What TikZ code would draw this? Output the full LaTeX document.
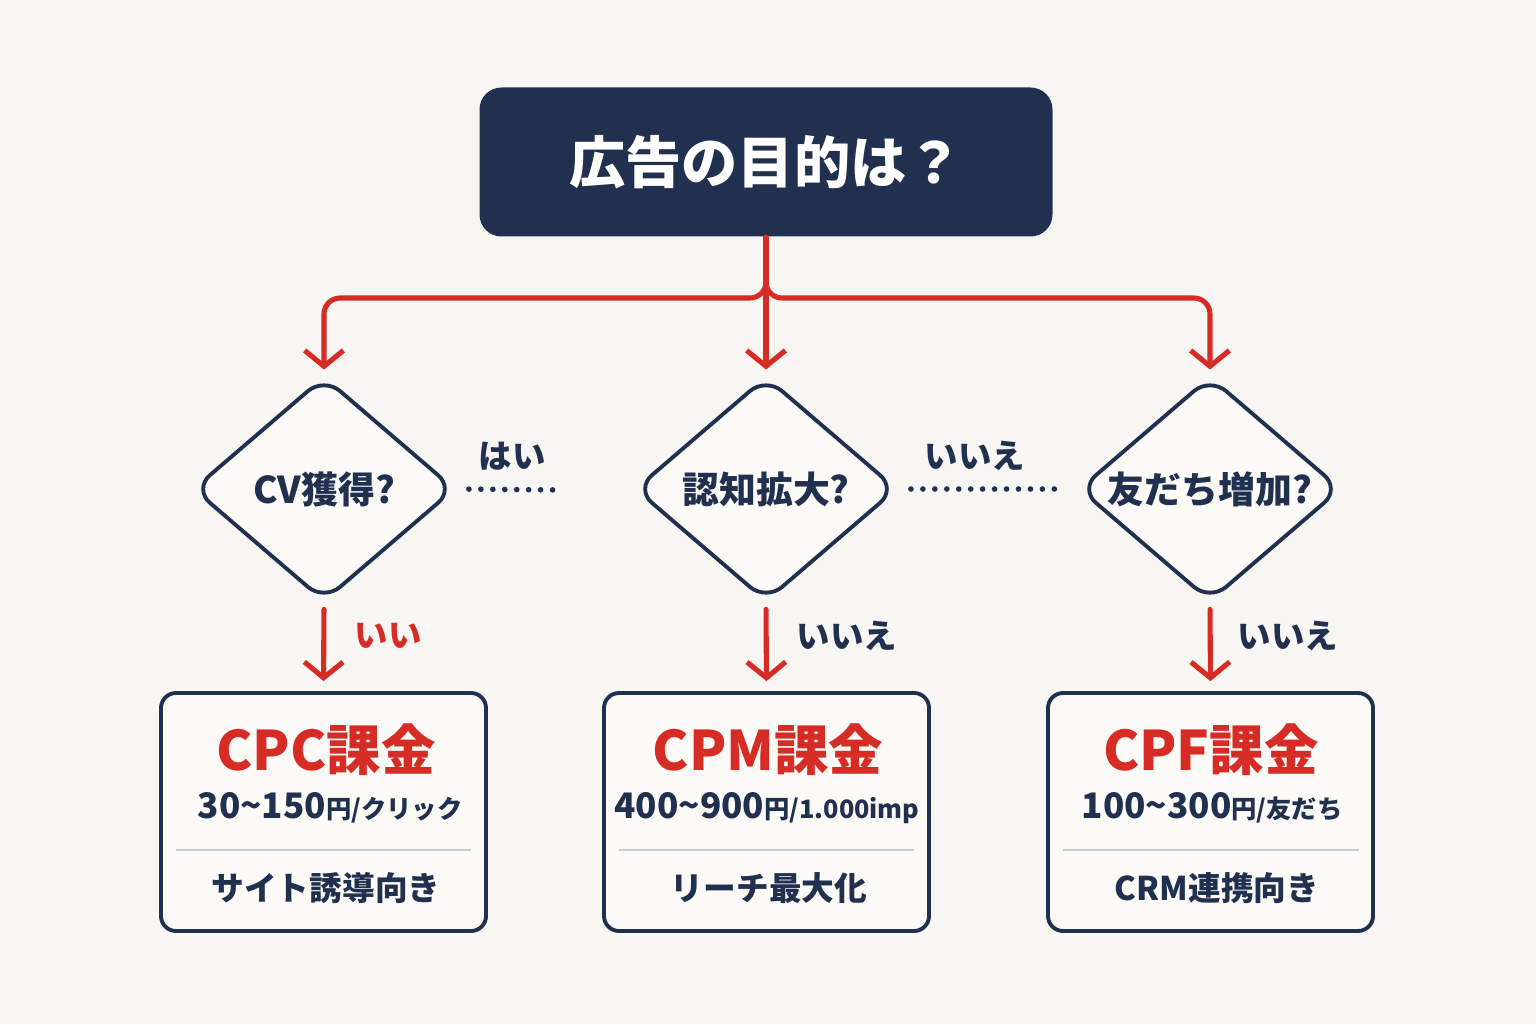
\documentclass[tikz,border=0pt]{standalone}
\usepackage{fontspec}
\setmainfont{Noto Sans CJK JP}
\usepackage{tikz}
\usetikzlibrary{arrows.meta,positioning,shapes.geometric}

\definecolor{navy}{HTML}{21304F}
\definecolor{adred}{HTML}{D72C26}
\definecolor{paper}{HTML}{F7F6F3}
\definecolor{card}{HTML}{FBFAF7}
\definecolor{rulegray}{HTML}{C8CDD6}
\newcommand{\perunit}[1]{{\fontsize{7.2}{9}\selectfont #1}}

\begin{document}
\begin{tikzpicture}[font=\bfseries,
  goalbox/.style={fill=navy,text=white,rounded corners=0.22cm,minimum width=5.73cm,minimum height=1.49cm,font=\fontsize{16}{19}\selectfont\bfseries},
  flow/.style={draw=adred,line width=1.45pt,line cap=round,-{Straight Barb[length=4.5pt,width=11pt]}},
  ask/.style={draw=navy,fill=card,line width=1.1pt,diamond,minimum width=2.62cm,minimum height=2.25cm,inner sep=0pt,rounded corners=6pt},
  asktext/.style={text=navy,font=\fontsize{10.5}{12}\selectfont\bfseries},
  answer/.style={text=navy,font=\fontsize{9.5}{11}\selectfont\bfseries},
  dots/.style={draw=navy,line width=1.6pt,line cap=round,dash pattern=on 0pt off 3.4pt},
  plan/.style={draw=navy,fill=card,line width=1.1pt,rounded corners=0.15cm,minimum width=3.25cm,minimum height=2.38cm},
  fee/.style={text=adred,font=\fontsize{15.5}{18}\selectfont\bfseries},
  price/.style={text=navy,font=\fontsize{10}{12}\selectfont\bfseries},
  usecase/.style={text=navy,font=\fontsize{9.3}{11}\selectfont\bfseries},
  divider/.style={draw=rulegray,line width=0.8pt}]
\fill[paper] (0,0) rectangle (15.36,10.24);
\useasboundingbox (0,0) rectangle (15.36,10.24);

% Question at the top.
\node[goalbox] (goal) at (7.66,8.62) {広告の目的は？};

% Three decisions.
\node[ask] (cv) at (3.24,5.35) {};
\node[asktext] (cvq) at (cv) {CV獲得?};
\node[ask] (aware) at (7.66,5.35) {};
\node[asktext] (awareq) at (aware) {認知拡大?};
\node[ask] (friend) at (12.10,5.35) {};
\node[asktext] (friendq) at (friend) {友だち増加?};

% Branches from the question.
\coordinate (fork) at (7.66,7.26);
\draw[flow,shorten >=0.05cm] (goal.south) -- (aware.north);
\draw[flow,rounded corners=0.16cm,shorten >=0.05cm] (goal.south) -- (fork) -| (cv.north);
\draw[flow,rounded corners=0.16cm,shorten >=0.05cm] (goal.south) -- (fork) -| (friend.north);

% Dotted links between decisions.
\coordinate (yesend) at (5.62,5.34);
\draw[dots,shorten <=0.12cm] (cv.east) -- (yesend);
\draw[dots,shorten <=0.12cm,shorten >=0.16cm] (aware.east) -- (friend.west);
\node[answer] (yes) at (5.12,5.68) {はい};
\node[answer] (nomid) at (9.75,5.68) {いいえ};

% Result cards.
\node[plan] (cpc) at (3.235,2.12) {};
\node[fee] (cpct) at (3.26,2.74) {CPC課金};
\node[price] (cpcp) at (3.30,2.16) {30\textasciitilde150\perunit{円/クリック}};
\draw[divider] (1.76,1.74) -- (4.71,1.74);
\node[usecase] (cpcu) at (3.26,1.36) {サイト誘導向き};

\node[plan] (cpm) at (7.665,2.12) {};
\node[fee] (cpmt) at (7.68,2.74) {CPM課金};
\node[price] (cpmp) at (7.67,2.16) {400\textasciitilde900\perunit{円/1.000imp}};
\draw[divider] (6.19,1.74) -- (9.14,1.74);
\node[usecase] (cpmu) at (7.69,1.36) {リーチ最大化};

\node[plan] (cpf) at (12.105,2.12) {};
\node[fee] (cpft) at (12.11,2.74) {CPF課金};
\node[price] (cpfp) at (12.12,2.16) {100\textasciitilde300\perunit{円/友だち}};
\draw[divider] (10.63,1.74) -- (13.59,1.74);
\node[usecase] (cpfu) at (12.17,1.36) {CRM連携向き};

% Decisions to cards.
\draw[flow,shorten <=0.06cm,shorten >=0.1cm] (cv.south) -- (cpc.north);
\draw[flow,shorten <=0.06cm,shorten >=0.1cm] (aware.south) -- (cpm.north);
\draw[flow,shorten <=0.06cm,shorten >=0.1cm] (friend.south) -- (cpf.north);
\node[answer,text=adred] (nocv) at (3.88,3.88) {いい};
\node[answer] (noaware) at (8.47,3.88) {いいえ};
\node[answer] (nofriend) at (12.88,3.88) {いいえ};
\end{tikzpicture}
\end{document}
